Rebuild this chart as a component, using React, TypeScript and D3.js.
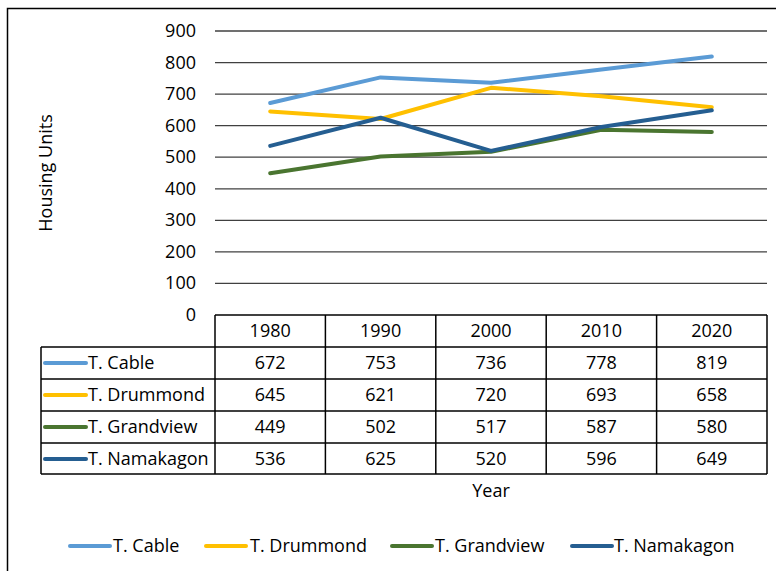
import React from "react";
import * as d3 from "d3";

const years = ["1980", "1990", "2000", "2010", "2020"];
const seriesNames = ["T. Cable", "T. Drummond", "T. Grandview", "T. Namakagon"];
const cable = [672, 753, 736, 778, 819];
const drummond = [645, 621, 720, 693, 658];
const grandview = [449, 502, 517, 587, 580];
const namakagon = [536, 625, 520, 596, 649];
const yTicks = [0, 100, 200, 300, 400, 500, 600, 700, 800, 900];
const colors = ["#5B9BD5", "#FFC000", "#4A7530", "#255E91"];

const FONT = "'Open Sans', 'Noto Sans', sans-serif";

export default function App() {
  const W = 776, H = 571;
  const plotLeft = 215, plotRight = 767, top = 31, bottom = 315;
  const y = d3.scaleLinear().domain([0, 900]).range([bottom, top]);
  const x = d3.scaleBand().domain(years).range([plotLeft, plotRight]);
  const cx = (yr: string) => (x(yr) as number) + x.bandwidth() / 2;
  const data = [cable, drummond, grandview, namakagon];
  const line = d3.line<number>().x((_, i) => cx(years[i])).y((v) => y(v));

  const rowH = 32;
  const headerTop = bottom;
  const rowTop = (i: number) => headerTop + rowH * (i + 1);
  const tableBottom = headerTop + rowH * 5 - 1;
  const keyLeft = 41;
  const fs = 18;
  const dy = 6;

  const legendItems = [
    { lx: 70, tx: 113 },
    { lx: 206, tx: 250 },
    { lx: 392, tx: 435 },
    { lx: 572, tx: 614 },
  ];

  return (
    <svg width={W} height={H} style={{ position: "absolute", left: 0, top: 0, background: "#fff" }} fontFamily={FONT}>
      <rect x={0} y={0} width={W} height={H} fill="#fff" />
      <rect x={7.5} y={8.5} width={W + 10} height={H + 10} fill="none" stroke="#000" strokeWidth={1.5} />
      {/* gridlines */}
      {yTicks.map((t) => (
        <g key={t}>
          {t > 0 && <line x1={plotLeft} x2={plotRight} y1={y(t)} y2={y(t)} stroke="#404040" strokeWidth={1.3} />}
          <text x={196} y={y(t) + dy} textAnchor="end" fontSize={fs} fill="#000">{t}</text>
        </g>
      ))}
      <text transform={`translate(52,${(top + bottom) / 2}) rotate(-90)`} textAnchor="middle" fontSize={fs} fill="#000">Housing Units</text>
      {/* series */}
      {data.map((d, i) => (
        <path key={i} d={line(d) as string} fill="none" stroke={colors[i]} strokeWidth={4} strokeLinecap="round" strokeLinejoin="round" />
      ))}
      {/* table */}
      <g stroke="#000" strokeWidth={1.5} fill="none">
        <line x1={plotLeft} x2={plotRight} y1={headerTop} y2={headerTop} />
        {[0, 1, 2, 3].map((i) => (
          <line key={i} x1={keyLeft} x2={plotRight} y1={rowTop(i)} y2={rowTop(i)} />
        ))}
        <line x1={keyLeft} x2={plotRight} y1={tableBottom} y2={tableBottom} />
        <line x1={keyLeft} x2={keyLeft} y1={rowTop(0)} y2={tableBottom} />
        {years.map((yr) => (
          <line key={yr} x1={x(yr) as number} x2={x(yr) as number} y1={headerTop} y2={tableBottom} />
        ))}
        <line x1={plotRight} x2={plotRight} y1={headerTop} y2={tableBottom} />
      </g>
      {years.map((yr) => (
        <text key={yr} x={cx(yr)} y={headerTop + rowH / 2 + dy} textAnchor="middle" fontSize={fs} fill="#000">{yr}</text>
      ))}
      {data.map((d, i) => (
        <g key={i}>
          <line x1={45} x2={86} y1={rowTop(i) + rowH / 2} y2={rowTop(i) + rowH / 2} stroke={colors[i]} strokeWidth={4} strokeLinecap="round" />
          <text x={88} y={rowTop(i) + rowH / 2 + dy} fontSize={fs} fill="#000">{seriesNames[i]}</text>
          {d.map((v, j) => (
            <text key={j} x={cx(years[j])} y={rowTop(i) + rowH / 2 + dy} textAnchor="middle" fontSize={fs} fill="#000">{v}</text>
          ))}
        </g>
      ))}
      <text x={491} y={497} textAnchor="middle" fontSize={fs} fill="#000">Year</text>
      {/* legend */}
      {legendItems.map((it, i) => (
        <g key={i}>
          <line x1={it.lx} x2={it.lx + 40} y1={546} y2={546} stroke={colors[i]} strokeWidth={4} strokeLinecap="round" />
          <text x={it.tx} y={552} fontSize={fs} fill="#000">{seriesNames[i]}</text>
        </g>
      ))}
    </svg>
  );
}
